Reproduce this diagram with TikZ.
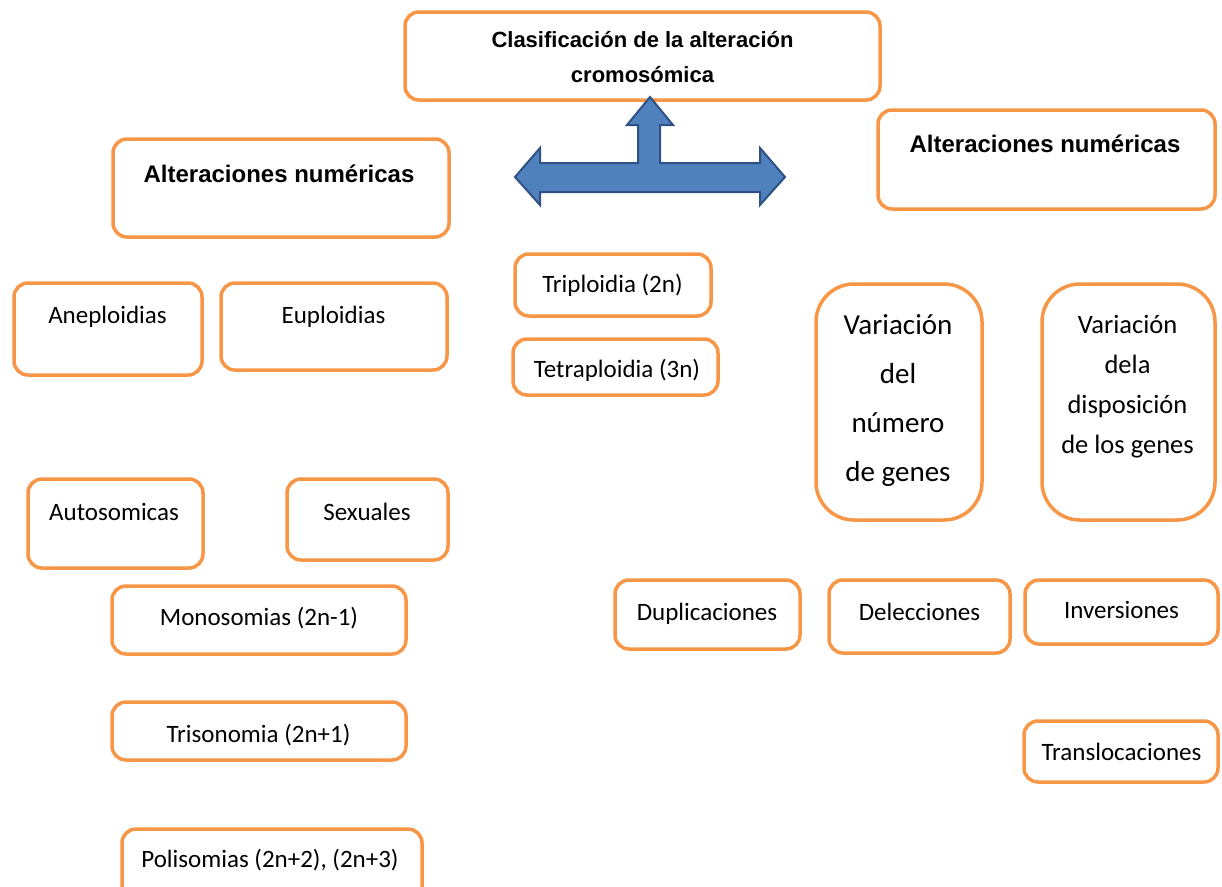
\documentclass[tikz,border=0pt]{standalone}
\usepackage{fontspec}
\setmainfont{Carlito}
\newfontfamily\hdfont{Liberation Sans}
\definecolor{boxorange}{HTML}{F79646}
\definecolor{arrowfill}{HTML}{4F81BD}
\definecolor{arrowline}{HTML}{2F5185}
\begin{document}
\begin{tikzpicture}[x=1pt,y=-1pt,
  box/.style={draw=boxorange, line width=3.5pt, rounded corners=14pt, fill=white, inner sep=0pt},
  tallbox/.style={box, rounded corners=38pt},
  txt/.style={anchor=base, inner sep=0pt, font=\fontsize{25}{30}\selectfont},
  hd/.style={anchor=base, inner sep=0pt, align=center, font=\hdfont\bfseries\fontsize{24}{35}\selectfont},
]
\clip (0,0) rectangle (1222,886);
\fill[white] (0,0) rectangle (1222,886);

% boxes
\node[box, minimum width=475pt, minimum height=88pt] (top) at (642.5,56) {};
\node[box, minimum width=336pt, minimum height=98pt] (altL) at (281,188) {};
\node[box, minimum width=337pt, minimum height=99pt] (altR) at (1046.5,159.5) {};
\node[box, minimum width=188pt, minimum height=92pt] (anep) at (108,329) {};
\node[box, minimum width=226pt, minimum height=87pt] (eupl) at (334,326.5) {};
\node[box, minimum width=196pt, minimum height=62pt] (trip) at (613,285) {};
\node[box, minimum width=205pt, minimum height=56pt] (tetra) at (615.5,367) {};
\node[tallbox, minimum width=166pt, minimum height=236pt] (var1) at (899,402) {};
\node[tallbox, minimum width=173pt, minimum height=236pt] (var2) at (1128.5,402) {};
\node[box, minimum width=175pt, minimum height=89pt] (auto) at (115.5,523.5) {};
\node[box, minimum width=161pt, minimum height=81pt] (sex) at (367.5,519.5) {};
\node[box, minimum width=294pt, minimum height=68pt] (mono) at (259,620) {};
\node[box, minimum width=294pt, minimum height=58pt] (tris) at (259,731) {};
\node[box, minimum width=300pt, minimum height=80pt] (poli) at (272,869) {};
\node[box, minimum width=185pt, minimum height=69pt] (dup) at (707.5,614.5) {};
\node[box, minimum width=181pt, minimum height=73pt] (del) at (919.5,616.5) {};
\node[box, minimum width=193pt, minimum height=64pt] (inv) at (1121.5,612) {};
\node[box, minimum width=194pt, minimum height=61pt] (trans) at (1121,751.5) {};

% texts (multi-line nodes: base = last line's baseline)
\node[hd, font=\hdfont\bfseries\fontsize{22}{35}\selectfont] (topT) at (642.5,82) {Clasificación de la alteración\\cromosómica};
\node[hd] (altLT) at (279,182) {Alteraciones numéricas};
\node[hd] (altRT) at (1045,152) {Alteraciones numéricas};
\node[txt] (anepT) at (107.5,323) {Aneploidias};
\node[txt] (euplT) at (333.5,323) {Euploidias};
\node[txt] (tripT) at (612.5,292) {Triploidia (2n)};
\node[txt] (tetraT) at (617,377) {Tetraploidia (3n)};
\node[txt, align=center, font=\fontsize{29}{48.7}\selectfont] (var1T) at (898,481) {Variación\\del\\número\\de genes};
\node[txt, align=center, font=\fontsize{26.5}{40}\selectfont] (var2T) at (1127.5,453) {Variación\\dela\\disposición\\de los genes};
\node[txt] (autoT) at (114,520) {Autosomicas};
\node[txt] (sexT) at (367,520) {Sexuales};
\node[txt] (monoT) at (259,625) {Monosomias (2n-1)};
\node[txt] (trisT) at (258.5,742) {Trisonomia (2n+1)};
\node[txt] (poliT) at (270,867) {Polisomias (2n+2), (2n+3)};
\node[txt] (dupT) at (707,620) {Duplicaciones};
\node[txt] (delT) at (919.5,620) {Delecciones};
\node[txt] (invT) at (1121.5,618) {Inversiones};
\node[txt] (transT) at (1121.5,760) {Translocaciones};

% three-way block arrow
\filldraw[fill=arrowfill, draw=arrowline, line width=2pt, line join=miter]
  (515,177) -- (540,148) -- (540,163) -- (638,163) -- (638,125) -- (627,125)
  -- (650,97) -- (673,125) -- (660,125) -- (660,163) -- (760,163) -- (760,148)
  -- (785,177) -- (760,205) -- (760,192) -- (540,192) -- (540,205) -- cycle;
\end{tikzpicture}
\end{document}
